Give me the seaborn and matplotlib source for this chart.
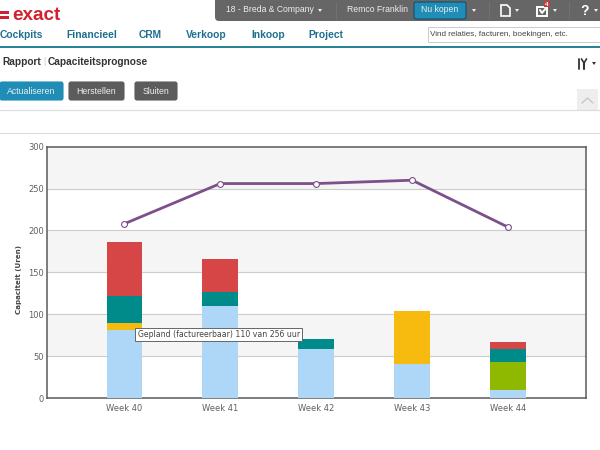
import matplotlib
matplotlib.use("Agg")
import matplotlib.pyplot as plt
from matplotlib.patches import FancyBboxPatch, Rectangle, Polygon
import seaborn as sns

# chart values
weeks = ["Week 40", "Week 41", "Week 42", "Week 43", "Week 44"]
gepland = [81, 110, 58, 40, 10]
geel = [9, 0, 0, 64, 0]
groen = [0, 0, 0, 0, 33]
teal = [32, 16, 12, 0, 16]
rood = [64, 40, 0, 0, 8]
capaciteit = [208, 256, 256, 260, 204]
yticks = [0, 50, 100, 150, 200, 250, 300]
tooltip = "Gepland (factureerbaar) 110 van 256 uur"

# page texts
nav_items = [("Cockpits", 0), ("Financieel", 66), ("CRM", 139), ("Verkoop", 186), ("Inkoop", 251), ("Project", 308)]
buttons = [("Actualiseren", 0, 63, "#1f8db5"), ("Herstellen", 69, 55, "#5c5c5c"), ("Sluiten", 135, 42, "#5c5c5c")]

sns.set_theme(style="white")
plt.rcParams["font.family"] = ["Liberation Sans", "DejaVu Sans"]

fig = plt.figure(figsize=(6, 4.5), dpi=100)
fig.patch.set_facecolor("white")

# page around the chart, in pixel coordinates
page = fig.add_axes([0, 0, 1, 1])
page.set_xlim(0, 600)
page.set_ylim(450, 0)
page.axis("off")

def button(x, y, w, h, color, edge=None, r=2):
    page.add_patch(FancyBboxPatch((x + r, y + r), w - 2 * r, h - 2 * r, boxstyle=f"round,pad={r},rounding_size={r}",
                                  fc=color, ec=edge or color, lw=0.8))

page.add_patch(FancyBboxPatch((219, -8), 390, 25, boxstyle="round,pad=4,rounding_size=4", fc="#666666", ec="none"))
page.text(226, 10, "18 - Breda & Company", color="#eeeeee", fontsize=6.25, va="center")
page.text(347, 10, "Remco Franklin", color="#eeeeee", fontsize=6.2, va="center")
button(414, 2, 52, 17, "#1f8db5", "#15506e")
page.text(440, 10, "Nu kopen", color="#eeeeee", fontsize=6.2, va="center", ha="center")
for cx in [320, 474, 517, 555, 596]:
    page.add_patch(Polygon([(cx - 2, 9), (cx + 2, 9), (cx, 12)], fc="#eeeeee", ec="none"))
for sx in [336, 489, 569]:
    page.plot([sx, sx], [2, 19], color="#757575", lw=0.6)

# document, inbox and help icons
page.add_patch(Polygon([(501, 5), (507, 5), (510, 8), (510, 16), (501, 16)], fc="#666666", ec="white", lw=1.2))
page.add_patch(Rectangle((537, 7), 10, 9, fc="#666666", ec="white", lw=1.4))
page.plot([540, 542, 546], [10, 13, 8], color="white", lw=1.4)
page.add_patch(Rectangle((544, 1), 6, 6, fc="#c83c3c", ec="none"))
page.text(547, 4, "4", color="white", fontsize=4.5, ha="center", va="center", weight="bold")
page.text(585, 11, "?", color="white", fontsize=10, ha="center", va="center", weight="bold")

# logo
page.add_patch(Rectangle((0, 11), 9, 2.6, fc="#d0222e", ec="none"))
page.add_patch(Rectangle((0, 16), 9, 2.6, fc="#d0222e", ec="none"))
page.text(12, 20, "exact", color="#d0222e", fontsize=13.6, va="baseline", weight="bold")

for label, x in nav_items:
    page.text(x, 35, label, color="#1d6f8f", fontsize=7.4, va="center", weight="bold")
page.add_patch(Rectangle((427.5, 27), 175, 15, fc="white", ec="#cccccc", lw=0.7))
page.text(430, 34.5, "Vind relaties, facturen, boekingen, etc.", color="#444444", fontsize=5.9, va="center")
page.add_patch(Rectangle((0, 46), 600, 2, fc="#2a8298", ec="none"))

page.text(2, 62, "Rapport", color="#333333", fontsize=7.3, va="center", weight="bold")
page.text(43, 61.5, "|", color="#cccccc", fontsize=6.5, va="center")
page.text(48, 62, "Capaciteitsprognose", color="#333333", fontsize=7.3, va="center", weight="bold")
for label, x, w, color in buttons:
    button(x, 82, w, 18, color)
    page.text(x + w / 2, 91, label, color="#eeeeee", fontsize=6.3, ha="center", va="center")

# tools icon and collapse button
page.plot([579, 579], [59, 69], color="#333333", lw=1.3)
page.plot([584, 584], [63, 69], color="#333333", lw=1.5)
page.plot([581.5, 584, 586.5], [59, 63, 59], color="#333333", lw=1.2)
page.add_patch(Polygon([(592, 62), (596, 62), (594, 65)], fc="#333333", ec="none"))
page.add_patch(Rectangle((577, 89), 21, 21, fc="#eeeeee", ec="none"))
page.plot([582, 587.5, 593], [103, 98, 103], color="#c8c8c8", lw=1)
page.plot([0, 600], [110, 110], color="#dddddd", lw=0.9)
page.plot([0, 600], [133, 133], color="#dddddd", lw=0.8)

# the chart itself
ax = fig.add_axes([46.7 / 600, 1 - 398 / 450, 539 / 600, 251.3 / 450])
ax.set_facecolor("white")
bottom = [0] * len(weeks)
for values, color in [(gepland, "#aed6f6"), (geel, "#f6bb0e"), (groen, "#8fb800"), (teal, "#008b8b"), (rood, "#d64646")]:
    sns.barplot(x=weeks, y=values, bottom=bottom, color=color, saturation=1, width=0.372, ax=ax, zorder=3, linewidth=0)
    bottom = [b + v for b, v in zip(bottom, values)]
sns.lineplot(x=weeks, y=capaciteit, sort=False, color="#7d4f8b", lw=2, marker="o", ms=4.2, mfc="white",
             mec="#7d4f8b", mew=0.8, ax=ax, zorder=4)

ax.set_xlim(-0.81, 4.81)
ax.set_ylim(0, 300)
for lo, hi in zip(yticks[1::2], yticks[2::2]):
    ax.axhspan(lo, hi, color="#f5f5f5", zorder=0, lw=0)
ax.set_yticks(yticks)
for y in yticks[1:-1]:
    ax.axhline(y, color="#cccccc", lw=0.8, zorder=1)
ax.tick_params(axis="both", length=0, labelsize=6, labelcolor="#606060")
ax.tick_params(axis="x", pad=4)
ax.tick_params(axis="y", pad=2)
for label in ax.get_xticklabels() + ax.get_yticklabels():
    label.set_fontfamily("DejaVu Sans")
for spine in ax.spines.values():
    spine.set_visible(True)
    spine.set_color("#5a5a5a")
    spine.set_linewidth(1.1)
ax.set_xlabel("")
ax.set_ylabel("Capaciteit (Uren)", fontsize=5.1, color="#444444", weight="bold", family="DejaVu Sans", labelpad=4, y=0.47)

# hover tooltip on top of everything
page.set_zorder(2)
page.text(137.5, 334.7, tooltip, fontsize=5.6, color="#444444", family="DejaVu Sans", va="center", zorder=5,
          bbox=dict(boxstyle="square,pad=0.28", fc="white", ec="#666666", lw=0.7))

fig.savefig("out.png", dpi=100)
